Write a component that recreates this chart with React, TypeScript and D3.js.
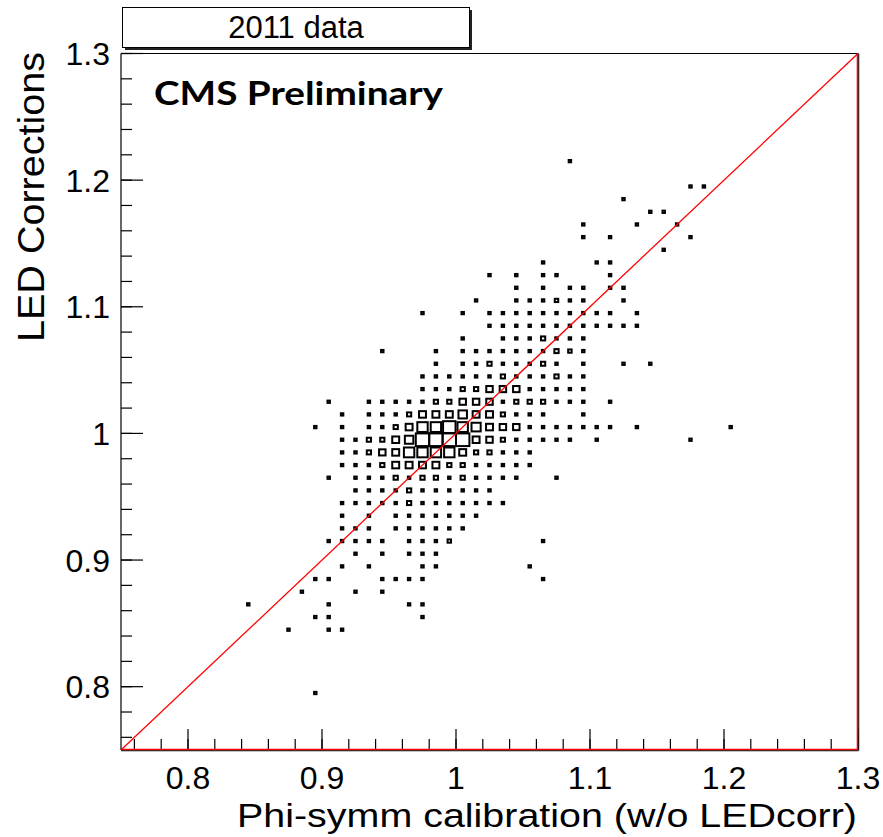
import React from 'react';
import * as d3 from 'd3';

const xTickValues = [0.8, 0.9, 1.0, 1.1, 1.2, 1.3];
const xTickLabels = ['0.8', '0.9', '1', '1.1', '1.2', '1.3'];
const yTickValues = [0.8, 0.9, 1.0, 1.1, 1.2, 1.3];
const yTickLabels = ['0.8', '0.9', '1', '1.1', '1.2', '1.3'];

// 2D histogram (bin width 0.01): each row is one y bin, with the x bin centres and the bin contents
const rowY = [
  1.215, 1.195, 1.185, 1.175, 1.165, 1.155, 1.145, 1.135, 1.125, 1.115, 1.105, 1.095, 1.085,
  1.075, 1.065, 1.055, 1.045, 1.035, 1.025, 1.015, 1.005, 0.995, 0.985, 0.975, 0.965, 0.955,
  0.945, 0.935, 0.925, 0.915, 0.905, 0.895, 0.885, 0.875, 0.865, 0.855, 0.845, 0.795,
];
const rowXs = [
  [1.085],
  [1.175, 1.185],
  [1.125],
  [1.145, 1.155],
  [1.095, 1.135, 1.165],
  [1.095, 1.115, 1.175],
  [1.155],
  [1.065, 1.105, 1.115],
  [1.025, 1.045, 1.065, 1.075, 1.115],
  [1.045, 1.065, 1.085, 1.095, 1.115, 1.125],
  [1.015, 1.045, 1.055, 1.065, 1.075, 1.085, 1.095, 1.125],
  [0.975, 1.005, 1.025, 1.035, 1.045, 1.055, 1.065, 1.075, 1.085, 1.095, 1.105, 1.115, 1.135],
  [1.025, 1.035, 1.045, 1.055, 1.065, 1.075, 1.085, 1.095, 1.105, 1.115, 1.125, 1.135],
  [1.005, 1.035, 1.045, 1.055, 1.065, 1.075, 1.085, 1.095],
  [0.945, 0.985, 1.005, 1.015, 1.025, 1.035, 1.045, 1.055, 1.065, 1.075, 1.085, 1.095],
  [0.985, 1.005, 1.015, 1.025, 1.035, 1.045, 1.055, 1.065, 1.075, 1.095, 1.125, 1.145],
  [0.975, 0.985, 0.995, 1.005, 1.015, 1.025, 1.035, 1.045, 1.055, 1.065, 1.075, 1.085, 1.095],
  [0.975, 0.985, 0.995, 1.005, 1.015, 1.025, 1.035, 1.045, 1.055, 1.065, 1.075, 1.085, 1.095],
  [0.905, 0.935, 0.945, 0.955, 0.965, 0.975, 0.985, 0.995, 1.005, 1.015, 1.025, 1.035, 1.045, 1.055, 1.065, 1.075, 1.085, 1.095, 1.115],
  [0.915, 0.935, 0.945, 0.955, 0.965, 0.975, 0.985, 0.995, 1.005, 1.015, 1.025, 1.035, 1.045, 1.055, 1.065, 1.095],
  [0.895, 0.915, 0.935, 0.945, 0.955, 0.965, 0.975, 0.985, 0.995, 1.005, 1.015, 1.025, 1.035, 1.045, 1.055, 1.065, 1.075, 1.085, 1.095, 1.105, 1.115, 1.135, 1.205],
  [0.915, 0.925, 0.935, 0.945, 0.955, 0.965, 0.975, 0.985, 0.995, 1.005, 1.015, 1.025, 1.035, 1.045, 1.055, 1.065, 1.075, 1.085, 1.105, 1.175],
  [0.915, 0.925, 0.935, 0.945, 0.955, 0.965, 0.975, 0.985, 0.995, 1.005, 1.015, 1.025, 1.035, 1.045, 1.055],
  [0.915, 0.925, 0.935, 0.945, 0.955, 0.965, 0.975, 0.985, 0.995, 1.005, 1.015, 1.025, 1.035, 1.045, 1.055],
  [0.905, 0.925, 0.935, 0.945, 0.955, 0.965, 0.975, 0.985, 0.995, 1.005, 1.015, 1.025, 1.035, 1.045, 1.075],
  [0.925, 0.935, 0.945, 0.955, 0.965, 0.975, 0.985, 0.995, 1.005, 1.015, 1.025],
  [0.915, 0.925, 0.935, 0.945, 0.955, 0.965, 0.975, 0.985, 0.995, 1.005, 1.015, 1.025, 1.035],
  [0.915, 0.935, 0.955, 0.965, 0.975, 0.985, 0.995, 1.005, 1.015],
  [0.915, 0.925, 0.935, 0.955, 0.965, 0.975, 0.985, 0.995, 1.005],
  [0.905, 0.915, 0.925, 0.935, 0.945, 0.965, 0.975, 0.985, 0.995, 1.065],
  [0.925, 0.945, 0.965, 0.975, 0.985],
  [0.915, 0.935, 0.975, 0.985, 1.055],
  [0.895, 0.905, 0.945, 0.955, 0.965, 0.975, 1.065],
  [0.885, 0.925, 0.945],
  [0.845, 0.905, 0.965, 0.975],
  [0.895, 0.905, 0.975],
  [0.875, 0.905, 0.915],
  [0.895],
];
const rowNs = [
  [1],
  [1, 1],
  [1],
  [1, 1],
  [1, 1, 1],
  [1, 1, 1],
  [1],
  [1, 1, 1],
  [1, 1, 1, 1, 1],
  [1, 1, 1, 1, 1, 1],
  [1, 1, 1, 1, 2, 1, 1, 1],
  [1, 1, 1, 1, 1, 1, 1, 1, 1, 1, 1, 1, 1],
  [1, 1, 1, 1, 1, 1, 1, 1, 1, 1, 1, 1],
  [1, 1, 1, 1, 3, 1, 1, 1],
  [1, 1, 1, 1, 1, 1, 1, 1, 1, 3, 2, 1],
  [1, 1, 1, 3, 1, 1, 1, 3, 1, 1, 1, 1],
  [1, 1, 1, 1, 1, 1, 3, 1, 1, 1, 3, 1, 1],
  [1, 1, 1, 3, 3, 7, 7, 7, 1, 1, 1, 1, 1],
  [1, 1, 1, 1, 1, 1, 3, 3, 7, 7, 7, 1, 3, 3, 3, 1, 1, 1, 1],
  [1, 1, 1, 1, 3, 8, 8, 8, 12, 8, 8, 3, 1, 1, 1, 1],
  [1, 1, 1, 1, 3, 8, 18, 18, 26, 18, 14, 8, 7, 7, 1, 1, 1, 1, 1, 1, 1, 1, 1],
  [1, 1, 3, 3, 8, 12, 30, 30, 30, 30, 8, 7, 3, 1, 1, 1, 1, 1, 1, 1],
  [1, 1, 3, 7, 8, 18, 18, 18, 18, 8, 3, 3, 1, 1, 1],
  [1, 1, 1, 3, 8, 8, 8, 8, 3, 3, 1, 1, 1, 1, 1],
  [1, 1, 1, 1, 3, 1, 3, 3, 1, 3, 1, 1, 1, 1, 1],
  [1, 1, 1, 1, 3, 1, 1, 1, 1, 1, 1],
  [1, 1, 1, 1, 1, 3, 1, 1, 1, 1, 1, 1, 1],
  [1, 1, 1, 1, 1, 1, 1, 1, 1],
  [1, 1, 1, 1, 1, 1, 1, 1, 1],
  [1, 1, 1, 1, 1, 1, 1, 1, 2, 1],
  [1, 1, 1, 1, 1],
  [1, 1, 1, 1, 1],
  [1, 1, 1, 1, 1, 1, 1],
  [1, 1, 1],
  [1, 1, 1, 1],
  [1, 1, 1],
  [1, 1, 1],
  [1],
];

const FONT = '"Liberation Sans", Arial, Helvetica, sans-serif';

export default function App() {
  const W = 883;
  const H = 837;
  const x = d3.scaleLinear().domain([0.75, 1.3]).range([121, 858]);
  const y = d3.scaleLinear().domain([0.75, 1.3]).range([750, 53.5]);
  const half = 0.005;
  const cMax = 30;

  const cells = rowY.flatMap((yv, r) =>
    rowXs[r].map((xv, k) => ({ xv, yv, n: rowNs[r][k] }))
  );
  const minorVals = d3.range(0, 28).map((k) => +(0.76 + 0.02 * k).toFixed(2));

  return (
    <svg width={W} height={H} style={{ position: 'absolute', left: 0, top: 0, background: '#fff' }}>
      <rect x={0} y={0} width={W} height={H} fill="#fff" />

      {/* boxes */}
      {cells.map((c, i) => {
        const f = Math.sqrt(c.n / cMax);
        const w = (x(c.xv + half) - x(c.xv - half)) * f;
        const h = (y(c.yv - half) - y(c.yv + half)) * f;
        return (
          <rect
            key={i}
            x={x(c.xv) - w / 2}
            y={y(c.yv) - h / 2}
            width={w}
            height={h}
            fill="none"
            stroke="#000"
            strokeWidth={2}
          />
        );
      })}

      {/* frame */}
      <line x1={x(0.75)} x2={x(1.3)} y1={y(1.3)} y2={y(1.3)} stroke="#000" strokeWidth={1.2} />
      <line x1={x(0.75)} x2={x(0.75)} y1={y(0.75)} y2={y(1.3)} stroke="#000" strokeWidth={1.2} />
      <line x1={x(0.75)} x2={x(1.3)} y1={y(0.75)} y2={y(0.75)} stroke="#000" strokeWidth={1} />
      <line x1={x(1.3)} x2={x(1.3)} y1={y(0.75)} y2={y(1.3)} stroke="#000" strokeWidth={1} />

      {/* x ticks */}
      {minorVals.map((v) => (
        <line key={'xm' + v} x1={x(v)} x2={x(v)} y1={y(0.75)} y2={y(0.75) - 11} stroke="#000" strokeWidth={1.2} />
      ))}
      {xTickValues.map((v) => (
        <line key={'xM' + v} x1={x(v)} x2={x(v)} y1={y(0.75)} y2={y(0.75) - 21} stroke="#000" strokeWidth={1.2} />
      ))}
      {xTickValues.map((v, i) => (
        <text key={'xl' + v} x={x(v)} y={789} textAnchor="middle" fontFamily={FONT} fontSize={32} fill="#000">
          {xTickLabels[i]}
        </text>
      ))}

      {/* y ticks */}
      {minorVals.map((v) => (
        <line key={'ym' + v} x1={x(0.75)} x2={x(0.75) + 11} y1={y(v)} y2={y(v)} stroke="#000" strokeWidth={1.2} />
      ))}
      {yTickValues.map((v) => (
        <line key={'yM' + v} x1={x(0.75)} x2={x(0.75) + 22} y1={y(v)} y2={y(v)} stroke="#000" strokeWidth={1.2} />
      ))}
      {yTickValues.map((v, i) => (
        <text key={'yl' + v} x={110} y={y(v) + 11.5} textAnchor="end" fontFamily={FONT} fontSize={32} fill="#000">
          {yTickLabels[i]}
        </text>
      ))}

      {/* diagonal y = x */}
      <line x1={x(0.75)} y1={y(0.75)} x2={x(1.3)} y2={y(1.3)} stroke="#ff0000" strokeWidth={1.3} />
      {/* red overdraw on bottom and right frame edges */}
      <line x1={x(0.75)} x2={x(1.3)} y1={y(0.75) - 0.5} y2={y(0.75) - 0.5} stroke="#ff0000" strokeWidth={1.6} />
      <line x1={x(1.3) - 0.5} x2={x(1.3) - 0.5} y1={y(0.75)} y2={y(1.3)} stroke="#ff0000" strokeWidth={1.6} />
      <line x1={x(0.75)} x2={x(1.3) + 0.5} y1={y(0.75) + 0.8} y2={y(0.75) + 0.8} stroke="#000" strokeWidth={0.8} />
      <line x1={x(1.3) + 0.8} x2={x(1.3) + 0.8} y1={y(0.75) + 0.8} y2={y(1.3)} stroke="#000" strokeWidth={0.8} />

      {/* title box */}
      <rect x={125} y={10} width={347} height={40} fill="#222" />
      <rect x={122.5} y={7.5} width={347} height={40} fill="#fff" stroke="#000" strokeWidth={1} />
      <text x={296} y={38} textAnchor="middle" fontFamily={FONT} fontSize={31} fill="#000">
        2011 data
      </text>

      {/* CMS Preliminary */}
      <text
        x={154}
        y={105}
        fontFamily='Lato, "Open Sans", "DejaVu Sans", sans-serif'
        fontWeight="bold"
        fontSize={33}
        textLength={289}
        lengthAdjust="spacingAndGlyphs"
        fill="#000"
      >
        CMS Preliminary
      </text>

      {/* axis titles */}
      <text
        x={237}
        y={827}
        fontFamily={FONT}
        fontSize={33}
        textLength={620}
        lengthAdjust="spacingAndGlyphs"
        fill="#000"
      >
        Phi-symm calibration (w/o LEDcorr)
      </text>
      <text
        transform="translate(44,342) rotate(-90)"
        x={0}
        y={0}
        fontFamily={FONT}
        fontSize={36}
        textLength={290}
        lengthAdjust="spacingAndGlyphs"
        fill="#000"
      >
        LED Corrections
      </text>
    </svg>
  );
}
